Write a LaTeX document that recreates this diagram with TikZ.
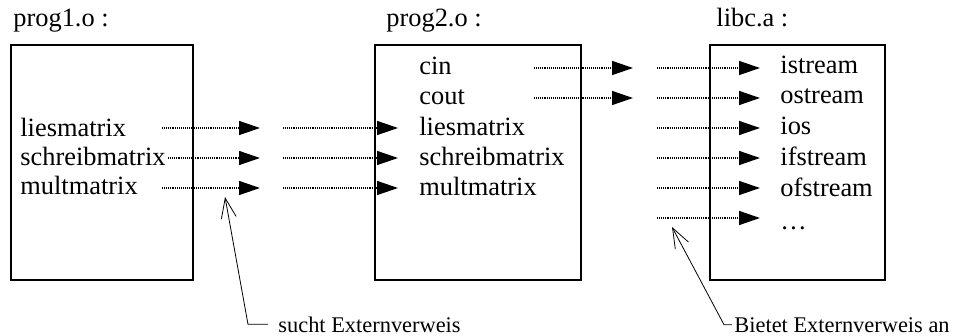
\documentclass[tikz,border=0pt]{standalone}
\usepackage{fontspec}
\setmainfont{Liberation Serif}
\usepackage{tikz}
\usetikzlibrary{arrows.meta}

\begin{document}
\begin{tikzpicture}[x=0.5pt,y=-0.5pt,
  modul/.style={draw,line width=1pt,minimum height=117.5pt,inner sep=0pt},
  symbol/.style={anchor=base west,inner sep=0pt,font=\fontsize{13.2}{15}\selectfont},
  notiz/.style={anchor=base west,inner sep=0pt,font=\fontsize{11.2}{13}\selectfont},
  verweis/.style={line width=0.7pt,dash pattern=on 0.35pt off 0.6pt,-{Triangle[length=10.5pt,width=7pt]}},
  zeiger/.style={line width=0.4pt,{Straight Barb[length=10pt,width=7.5pt]}-}]

\useasboundingbox (0,0) rectangle (957,336);

% Objektdateien und Bibliothek
\node[modul,minimum width=91pt] (prog1) at (102,162.5) {};
\node[modul,minimum width=103pt] (prog2) at (478,162.5) {};
\node[modul,minimum width=87.5pt] (libc) at (797.5,162.5) {};

% Ueberschriften
\node[symbol] (titel1) at (13,27) {prog1.o :};
\node[symbol] (titel2) at (386,27) {prog2.o :};
\node[symbol] (titel3) at (716,27) {libc.a :};

% Symbole in prog1.o
\node[symbol] (lies1) at (20,137) {liesmatrix};
\node[symbol] (schreib1) at (20,166) {schreibmatrix};
\node[symbol] (mult1) at (20,195) {multmatrix};

% Symbole in prog2.o
\node[symbol] (cin) at (419,75) {cin};
\node[symbol] (cout) at (419,105) {cout};
\node[symbol] (lies2) at (419,136) {liesmatrix};
\node[symbol] (schreib2) at (419,166) {schreibmatrix};
\node[symbol] (mult2) at (419,196) {multmatrix};

% Symbole in libc.a
\node[symbol] (istream) at (780,74) {istream};
\node[symbol] (ostream) at (780,104) {ostream};
\node[symbol] (ios) at (780,135) {ios};
\node[symbol] (ifstream) at (780,166) {ifstream};
\node[symbol] (ofstream) at (780,197) {ofstream};
\node[symbol] (weitere) at (780,229) {\dots};

% offene Verweise aus prog1.o
\coordinate (a1) at (162,128); \coordinate (b1) at (260,128);
\coordinate (a2) at (168,158); \coordinate (b2) at (260,158);
\coordinate (a3) at (162,188); \coordinate (b3) at (260,188);
\draw[verweis] (a1) -- (b1);
\draw[verweis] (a2) -- (b2);
\draw[verweis] (a3) -- (b3);

% angebotene Symbole in prog2.o
\coordinate (c1) at (283,128); \coordinate (d1) at (398,128);
\coordinate (c2) at (283,158); \coordinate (d2) at (398,158);
\coordinate (c3) at (283,188); \coordinate (d3) at (398,188);
\draw[verweis] (c1) -- (d1);
\draw[verweis] (c2) -- (d2);
\draw[verweis] (c3) -- (d3);

% offene Verweise aus prog2.o
\coordinate (e1) at (534,68); \coordinate (f1) at (633,68);
\coordinate (e2) at (534,98); \coordinate (f2) at (633,98);
\draw[verweis] (e1) -- (f1);
\draw[verweis] (e2) -- (f2);

% angebotene Symbole in libc.a
\coordinate (g1) at (657,68); \coordinate (h1) at (760,68);
\coordinate (g2) at (657,98); \coordinate (h2) at (760,98);
\coordinate (g3) at (657,128); \coordinate (h3) at (760,128);
\coordinate (g4) at (657,158); \coordinate (h4) at (760,158);
\coordinate (g5) at (657,188); \coordinate (h5) at (760,188);
\coordinate (g6) at (657,218); \coordinate (h6) at (760,218);
\draw[verweis] (g1) -- (h1);
\draw[verweis] (g2) -- (h2);
\draw[verweis] (g3) -- (h3);
\draw[verweis] (g4) -- (h4);
\draw[verweis] (g5) -- (h5);
\draw[verweis] (g6) -- (h6);

% Erlaeuterungen
\node[notiz] (such) at (278,332) {sucht Externverweis};
\node[notiz] (biet) at (734,332) {Bietet Externverweis an};
\coordinate (ziel1) at (225,197); \coordinate (knick1) at (248,325);
\coordinate (ziel2) at (672,227); \coordinate (knick2) at (724,325);
\draw[zeiger] (ziel1) -- (knick1 |- such.west) -- ([xshift=-5pt]such.west);
\draw[zeiger] (ziel2) -- (knick2 |- biet.west) -- ([xshift=-1pt]biet.west);

\end{tikzpicture}
\end{document}
